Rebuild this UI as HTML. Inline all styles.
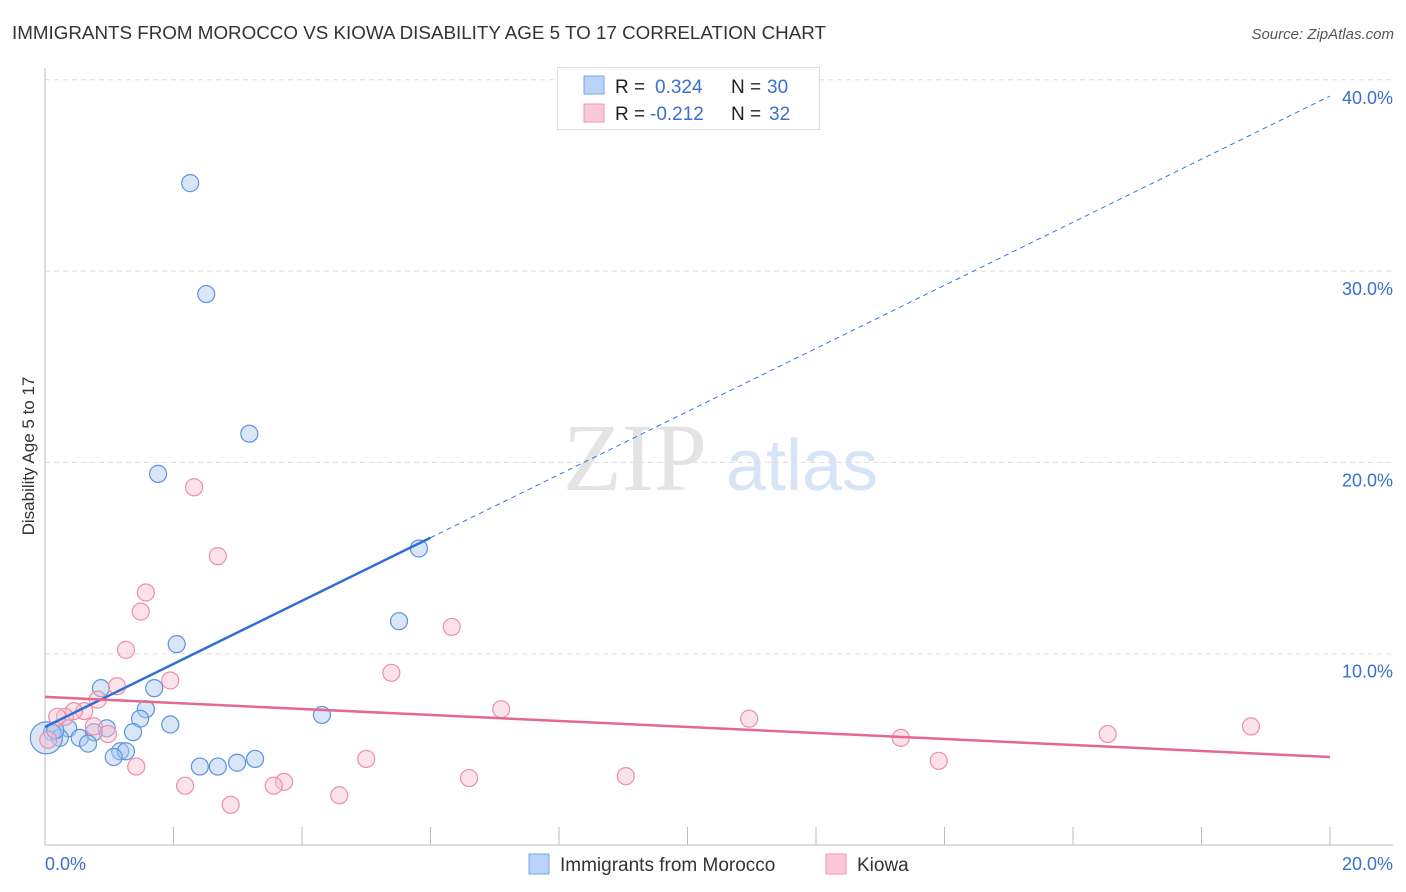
<!DOCTYPE html>
<html><head><meta charset="utf-8"><style>
body{margin:0;background:#fff;}
svg{display:block;font-family:"Liberation Sans",sans-serif;}
</style></head><body>
<svg id="chart" width="1406" height="892" viewBox="0 0 1406 892">
<text x="12" y="39" font-size="18" fill="#333" textLength="814" lengthAdjust="spacingAndGlyphs">IMMIGRANTS FROM MOROCCO VS KIOWA DISABILITY AGE 5 TO 17 CORRELATION CHART</text>
<text x="1394" y="39" font-size="15" fill="#555" font-style="italic" text-anchor="end">Source: ZipAtlas.com</text>
<g>
<text x="635" y="490" font-size="96" font-family="Liberation Serif,serif" fill="#e4e4e4" text-anchor="middle">ZIP</text>
<text x="802" y="490" font-size="72" fill="#d6e4f5" text-anchor="middle">atlas</text>
</g>
<g id="grid"></g>
<g id="axes"></g>
<g id="marks"></g>
<text transform="translate(34,456) rotate(-90)" font-size="17" fill="#333" text-anchor="middle">Disability Age 5 to 17</text>
<g>
<rect x="557.5" y="67.5" width="262" height="62" fill="#fff" stroke="#ddd"/>
<rect x="584" y="76" width="20" height="18" fill="#b8d3f5" stroke="#7aa8e6"/>
<rect x="584" y="104" width="20" height="18" fill="#fac8d6" stroke="#ef9ab3"/>
<text x="615" y="93" font-size="19" fill="#222">R = <tspan fill="#3a6fd0" x="655">0.324</tspan><tspan fill="#222" x="731">N = </tspan><tspan fill="#3a6fd0" x="767">30</tspan></text>
<text x="615" y="120" font-size="19" fill="#222">R = <tspan fill="#3a6fd0" x="650">-0.212</tspan><tspan fill="#222" x="731">N = </tspan><tspan fill="#3a6fd0" x="769">32</tspan></text>
</g>
<g>
<rect x="529" y="854" width="20" height="20" fill="#b8d3f5" stroke="#7aa8e6"/>
<text x="560" y="871" font-size="19" fill="#333">Immigrants from Morocco</text>
<rect x="826" y="854" width="20" height="20" fill="#fac8d6" stroke="#ef9ab3"/>
<text x="857" y="871" font-size="19" fill="#333">Kiowa</text>
</g>
</svg>
<script>
const yTicks=[10,20,30,40];
const yTickLabels=["10.0%","20.0%","30.0%","40.0%"];
const xTickLabels=["0.0%","20.0%"];
const moroccoX=[2.26,2.51,3.18,1.76,5.82,5.51,2.05,0.87,1.70,1.57,4.31,1.48,1.95,0.96,1.37,0.76,0.36,0.11,0.23,0.54,0.67,1.17,1.26,1.07,3.27,2.99,2.69,2.41,0.02,0.16];
const moroccoY=[34.6,28.8,21.5,19.4,15.5,11.7,10.5,8.2,8.2,7.1,6.8,6.6,6.3,6.1,5.9,5.9,6.1,5.9,5.6,5.6,5.3,4.9,4.9,4.6,4.5,4.3,4.1,4.1,5.6,6.0];
const kiowaX=[2.32,2.69,1.57,1.49,6.33,1.26,5.39,1.95,1.12,0.82,7.10,10.96,18.77,0.61,0.45,0.31,0.19,0.76,0.98,13.32,16.54,5.0,13.91,1.42,3.72,3.56,6.60,9.04,2.18,4.58,2.89,0.05];
const kiowaY=[18.7,15.1,13.2,12.2,11.4,10.2,9.0,8.6,8.3,7.6,7.1,6.6,6.2,7.0,7.0,6.7,6.7,6.2,5.8,5.6,5.8,4.5,4.4,4.1,3.3,3.1,3.5,3.6,3.1,2.6,2.1,5.5];
const moroccoTrend=[6.17,39.15];
const kiowaTrend=[7.74,4.6];
const moroccoSolidEnd=6.0;

const NS="http://www.w3.org/2000/svg";
const X0=45,X1=1330,Y0=845,PX=19.13;
const sx=v=>X0+(v/20)*(X1-X0);
const sy=v=>Y0-v*PX;
function mk(tag,attrs,parent){const e=document.createElementNS(NS,tag);for(const k in attrs)e.setAttribute(k,attrs[k]);parent.appendChild(e);return e;}
const grid=document.getElementById('grid'),axes=document.getElementById('axes'),marks=document.getElementById('marks');
yTicks.forEach((t,i)=>{
 const l=mk('line',{x1:X0,x2:1393,y1:sy(t),y2:sy(t),stroke:'#ddd','stroke-dasharray':'5,4'},grid);
 
 
 const tx=mk('text',{x:1393,y:sy(t)+24,'font-size':18,fill:'#3a6fd0','text-anchor':'end'},grid);
 tx.textContent=yTickLabels[i];
 
 
});
let a=mk('line',{x1:X0,x2:X0,y1:68,y2:Y0,stroke:'#bbb'},axes);


a=mk('line',{x1:X0,x2:1393,y1:Y0,y2:Y0,stroke:'#bbb'},axes);


for(let i=1;i<=10;i++){
 const t=mk('line',{x1:sx(i*2),x2:sx(i*2),y1:827,y2:Y0,stroke:'#bbb'},axes);
 
 
}
[[0,'start',45],[20,'end',1393]].forEach((p,i)=>{
 const tx=mk('text',{x:p[2],y:870,'font-size':18,fill:'#3a6fd0','text-anchor':p[1]},axes);
 tx.textContent=xTickLabels[i];
 
 
});
function dots(xs,ys,fill,stroke,name){
 xs.forEach((x,i)=>{
  const big=(x<0.05);
  const c=mk('circle',{cx:sx(x),cy:sy(ys[i]),r:big?16:8.5,fill:fill,'fill-opacity':0.45,stroke:stroke,'stroke-width':1.2},marks);
  
  
 });
}
dots(moroccoX,moroccoY,'#a9c8f0','#5d92dd','point-morocco');
dots(kiowaX,kiowaY,'#f8bfd0','#ec8fab','point-kiowa');
const mAt=x=>moroccoTrend[0]+(moroccoTrend[1]-moroccoTrend[0])*x/20;
let t=mk('line',{x1:sx(moroccoSolidEnd),y1:sy(mAt(moroccoSolidEnd)),x2:sx(20),y2:sy(mAt(20)),stroke:'#3a78d8','stroke-width':1,'stroke-dasharray':'5,4'},marks);


t=mk('line',{x1:sx(0),y1:sy(mAt(0)),x2:sx(moroccoSolidEnd),y2:sy(mAt(moroccoSolidEnd)),stroke:'#2e6fd6','stroke-width':2.5},marks);


t=mk('line',{x1:sx(0),y1:sy(kiowaTrend[0]),x2:sx(20),y2:sy(kiowaTrend[1]),stroke:'#e5688f','stroke-width':2.5},marks);


</script>
</body></html>
